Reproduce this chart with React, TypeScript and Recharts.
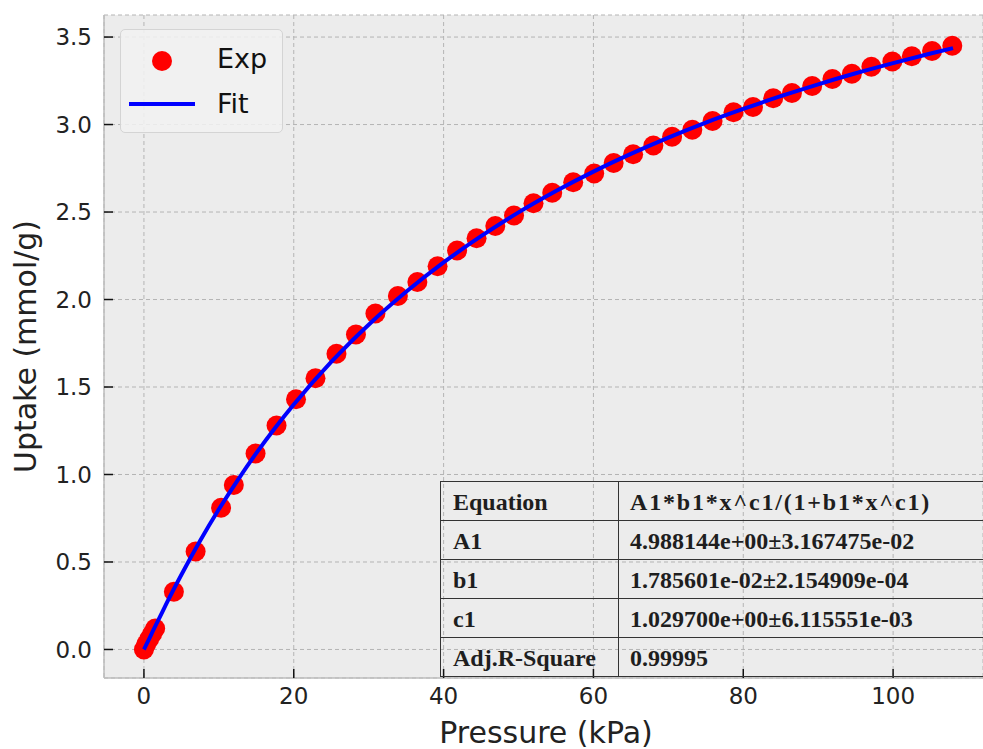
import React from "react";
import {
  ComposedChart,
  Scatter,
  XAxis,
  YAxis,
  CartesianGrid,
  Legend,
  Label,
} from "recharts";

const expPressure = [
  0.0, 0.3, 0.7, 1.1, 1.5, 4.0, 6.9, 10.3, 12.0, 14.9, 17.7, 20.3, 22.9, 25.7,
  28.3, 30.9, 33.9, 36.5, 39.2, 41.8, 44.4, 46.9, 49.4, 52.0, 54.5, 57.3, 60.1,
  62.7, 65.3, 68.0, 70.5, 73.2, 75.9, 78.7, 81.3, 84.0, 86.5, 89.2, 91.9, 94.5,
  97.1, 99.9, 102.5, 105.2, 107.9,
];
const expUptake = [
  0.0, 0.03, 0.06, 0.09, 0.12, 0.33, 0.56, 0.81, 0.94, 1.12, 1.28, 1.43, 1.55,
  1.69, 1.8, 1.92, 2.02, 2.1, 2.19, 2.28, 2.35, 2.42, 2.48, 2.55, 2.61, 2.67,
  2.72, 2.78, 2.83, 2.88, 2.93, 2.97, 3.02, 3.07, 3.1, 3.15, 3.18, 3.22, 3.26,
  3.29, 3.33, 3.36, 3.39, 3.42, 3.45,
];

// fitted curve
const fitPressure = [
  0, 0.5, 1, 2, 3, 5, 7.5, 10, 12.5, 15, 17.5, 20, 25, 30, 35, 40, 45, 50, 55,
  60, 65, 70, 75, 80, 85, 90, 95, 100, 105, 108,
];
const fitUptake = [
  0, 0.043, 0.088, 0.175, 0.262, 0.427, 0.621, 0.801, 0.967, 1.122, 1.266, 1.4,
  1.643, 1.856, 2.044, 2.212, 2.362, 2.498, 2.62, 2.731, 2.832, 2.925, 3.011,
  3.089, 3.162, 3.23, 3.293, 3.351, 3.406, 3.437,
];

const xTicks = [0, 20, 40, 60, 80, 100];
const yTicks = [0, 0.5, 1.0, 1.5, 2.0, 2.5, 3.0, 3.5];

const tableLabels = ["Equation", "A1", "b1", "c1", "Adj.R-Square"];
const tableValues = [
  "A1*b1*x^c1/(1+b1*x^c1)",
  "4.988144e+00\u00b13.167475e-02",
  "1.785601e-02\u00b12.154909e-04",
  "1.029700e+00\u00b16.115551e-03",
  "0.99995",
];

const expData = expPressure.map((p, i) => ({ x: p, y: expUptake[i] }));
const fitData = fitPressure.map((p, i) => ({ x: p, y: fitUptake[i] }));

const FONT = "'DejaVu Sans', sans-serif";
const FRAME = "#bdbdbd";

const renderLegend = () => (
  <div
    style={{
      width: 163,
      height: 104,
      boxSizing: "border-box",
      background: "rgba(242,242,242,0.85)",
      border: "1px solid #d4d4d4",
      borderRadius: 5,
      position: "relative",
    }}
  >
    <svg width={163} height={104} style={{ position: "absolute", left: 0, top: 0 }}>
      <circle cx={41} cy={31} r={10} fill="#ff0000" />
      <line x1={8} x2={74} y1={74} y2={74} stroke="#0000ff" strokeWidth={4} />
      <text x={96} y={38} fontFamily={FONT} fontSize={27} fill="#111">
        Exp
      </text>
      <text x={96} y={83} fontFamily={FONT} fontSize={27} fill="#111">
        Fit
      </text>
    </svg>
  </div>
);

export default function App() {
  return (
    <div
      style={{
        position: "absolute",
        left: 0,
        top: 0,
        width: 983,
        height: 749,
        overflow: "hidden",
        background: "#fff",
      }}
    >
      <ComposedChart
        width={983}
        height={749}
        margin={{ top: 15, right: 0, bottom: 0, left: 0 }}
      >
        <CartesianGrid stroke="#b4b4b4" strokeDasharray="4 3" fill="#ececec" />
        <XAxis
          xAxisId="top"
          orientation="top"
          type="number"
          dataKey="x"
          domain={[-5.33, 112]}
          allowDataOverflow
          height={0}
          tick={false}
          tickLine={false}
          axisLine={{ stroke: FRAME, strokeWidth: 1.5 }}
        />
        <XAxis
          type="number"
          dataKey="x"
          domain={[-5.33, 112]}
          allowDataOverflow
          ticks={xTicks}
          height={71}
          tickSize={-9}
          tickMargin={19}
          tickLine={{ stroke: "#111", strokeWidth: 1.5 }}
          axisLine={{ stroke: FRAME, strokeWidth: 1.5 }}
          tick={{ fontSize: 23, fontFamily: FONT, fill: "#222" }}
        >
          <Label
            content={() => (
              <text
                x={546}
                y={743}
                textAnchor="middle"
                fontSize={30}
                fontFamily={FONT}
                fill="#222"
              >
                Pressure (kPa)
              </text>
            )}
          />
        </XAxis>
        <YAxis
          type="number"
          dataKey="y"
          domain={[-0.163, 3.626]}
          allowDataOverflow
          ticks={yTicks}
          width={104}
          tickSize={-9}
          tickMargin={21}
          tickFormatter={(v: number) => v.toFixed(1)}
          tickLine={{ stroke: "#111", strokeWidth: 1.5 }}
          axisLine={{ stroke: FRAME, strokeWidth: 1.5 }}
          tick={{ fontSize: 23, fontFamily: FONT, fill: "#222" }}
        >
          <Label
            content={({ viewBox }: any) => {
              const cx = viewBox.x + 25;
              const cy = viewBox.y + viewBox.height / 2;
              return (
                <text
                  x={cx}
                  y={cy}
                  transform={`rotate(-90 ${cx} ${cy})`}
                  textAnchor="middle"
                  dominantBaseline="central"
                  fontSize={30}
                  fontFamily={FONT}
                  fill="#222"
                >
                  Uptake (mmol/g)
                </text>
              );
            }}
          />
        </YAxis>
        <Legend
          layout="vertical"
          align="center"
          verticalAlign="middle"
          content={renderLegend}
          wrapperStyle={{ left: 120, top: 29, width: 163, height: 104 }}
        />
        <Scatter
          name="Exp"
          data={expData}
          fill="#ff0000"
          isAnimationActive={false}
          shape={(props: any) => (
            <circle cx={props.cx} cy={props.cy} r={10} fill="#ff0000" />
          )}
        />
        <Scatter
          name="Fit"
          data={fitData}
          fill="#0000ff"
          line={{ stroke: "#0000ff", strokeWidth: 4 }}
          lineType="joint"
          lineJointType="monotoneX"
          isAnimationActive={false}
          shape={() => <g />}
        />
      </ComposedChart>

      <table
        style={{
          position: "absolute",
          left: 440,
          top: 481,
          width: 570,
          borderCollapse: "collapse",
          fontFamily: "'Liberation Serif', 'Times New Roman', serif",
          fontWeight: "bold",
          fontSize: 24,
          color: "#1e1e1e",
          background: "transparent",
        }}
      >
        <tbody>
          {tableLabels.map((label, i) => (
            <tr key={label} style={{ height: 39 }}>
              <td
                style={{
                  width: 178,
                  boxSizing: "border-box",
                  border: "1.5px solid #333",
                  padding: "2px 0 0 12px",
                  whiteSpace: "nowrap",
                }}
              >
                {label}
              </td>
              <td
                style={{
                  border: "1.5px solid #333",
                  padding: "2px 0 0 11px",
                  whiteSpace: "nowrap",
                  letterSpacing: i === 0 ? 1.8 : 0,
                }}
              >
                {tableValues[i]}
              </td>
            </tr>
          ))}
        </tbody>
      </table>
    </div>
  );
}
